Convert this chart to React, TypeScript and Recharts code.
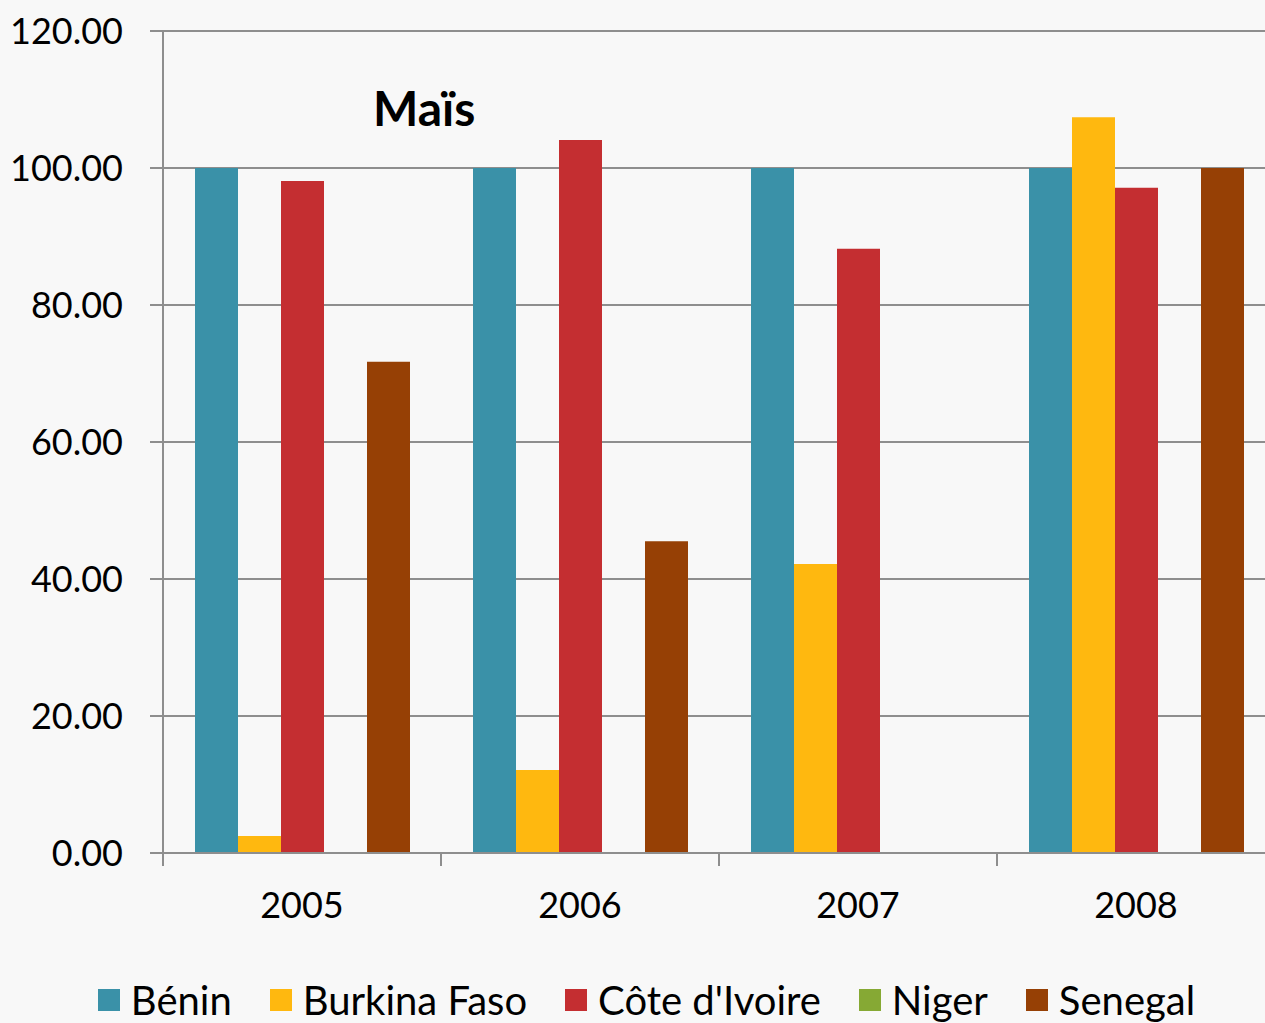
import React from 'react';
import { BarChart, Bar, XAxis, YAxis, CartesianGrid, Legend } from 'recharts';

const years = ['2005', '2006', '2007', '2008'];
const benin = [100, 100, 100, 100];
const burkina = [2.5, 12.1, 42.2, 107.4];
const coteIvoire = [98.1, 104.1, 88.2, 97.1];
const niger = [0, 0, 0, 0];
const senegal = [71.7, 45.5, 0, 100];
const yTicks = [0, 20, 40, 60, 80, 100, 120];

const seriesNames = ['Bénin', 'Burkina Faso', "Côte d'Ivoire", 'Niger', 'Senegal'];
const seriesKeys = ['benin', 'burkina', 'cote', 'niger', 'senegal'];
const seriesColors = ['#3A91A8', '#FFB80F', '#C42E31', '#86A934', '#964005'];

const data = years.map((y, i) => ({
  year: y,
  benin: benin[i],
  burkina: burkina[i],
  cote: coteIvoire[i],
  niger: niger[i],
  senegal: senegal[i],
}));

const CHART_W = 1275;
const CHART_H = 1023;
const Y_W = 163;
const HALF_BAND = (CHART_W - Y_W) / years.length / 2;
const FONT = 'Lato, "Open Sans", sans-serif';
const AXIS_GRAY = '#8E8E8E';

const XTick = (props: any) => {
  const { x, y, payload, index } = props;
  return (
    <g>
      <line x1={x - HALF_BAND} y1={y} x2={x - HALF_BAND} y2={y + 13} stroke={AXIS_GRAY} strokeWidth={2} />
      {index === years.length - 1 && (
        <line x1={x + HALF_BAND} y1={y} x2={x + HALF_BAND} y2={y + 13} stroke={AXIS_GRAY} strokeWidth={2} />
      )}
      <text x={x} y={y + 65} textAnchor="middle" fill="#000" fontSize={36} fontFamily={FONT}>
        {payload.value}
      </text>
    </g>
  );
};

const LegendContent = () => {
  return (
    <div
      style={{
        display: 'flex',
        justifyContent: 'center',
        alignItems: 'center',
        height: 46,
        width: 1265,
        boxSizing: 'border-box',
        paddingLeft: 28,
      }}
    >
      {seriesNames.map((name, i) => (
        <div key={name} style={{ display: 'flex', alignItems: 'center', marginRight: i < seriesNames.length - 1 ? 38 : 0 }}>
          <span style={{ display: 'inline-block', width: 22, height: 22, background: seriesColors[i], marginRight: 11 }} />
          <span style={{ fontSize: 40, fontFamily: FONT, color: '#000', lineHeight: '46px' }}>{name}</span>
        </div>
      ))}
    </div>
  );
};

export default function App() {
  return (
    <div
      style={{
        position: 'fixed',
        top: 0,
        left: 0,
        width: 1265,
        height: 1023,
        overflow: 'hidden',
        background: '#F8F8F8',
        fontFamily: FONT,
      }}
    >
      <BarChart
        width={CHART_W}
        height={CHART_H}
        data={data}
        margin={{ top: 31, right: 0, bottom: 0, left: 0 }}
        barCategoryGap={32}
        barGap={0}
      >
        <CartesianGrid vertical={false} stroke={AXIS_GRAY} strokeWidth={2} />
        <XAxis
          dataKey="year"
          height={124}
          tickSize={0}
          tickMargin={0}
          tickLine={false}
          axisLine={{ stroke: AXIS_GRAY, strokeWidth: 2 }}
          tick={<XTick />}
          interval={0}
        />
        <YAxis
          width={Y_W}
          domain={[0, 120]}
          ticks={yTicks}
          tickFormatter={(v: number) => v.toFixed(2)}
          tickSize={13}
          tickMargin={27}
          tickLine={{ stroke: AXIS_GRAY, strokeWidth: 2 }}
          axisLine={{ stroke: AXIS_GRAY, strokeWidth: 2 }}
          tick={{ fill: '#000', fontSize: 36, fontFamily: FONT }}
          interval={0}
        />
        <Legend
          verticalAlign="bottom"
          align="left"
          content={<LegendContent />}
          wrapperStyle={{ height: 46, width: 1265, left: 0, bottom: 0 }}
        />
        {seriesKeys.map((k, i) => (
          <Bar key={k} dataKey={k} name={seriesNames[i]} fill={seriesColors[i]} isAnimationActive={false} />
        ))}
      </BarChart>
      <div
        style={{
          position: 'absolute',
          left: 373,
          top: 83,
          fontSize: 48,
          fontWeight: 700,
          lineHeight: '50px',
          fontFamily: FONT,
          color: '#000',
        }}
      >
        Maïs
      </div>
    </div>
  );
}
